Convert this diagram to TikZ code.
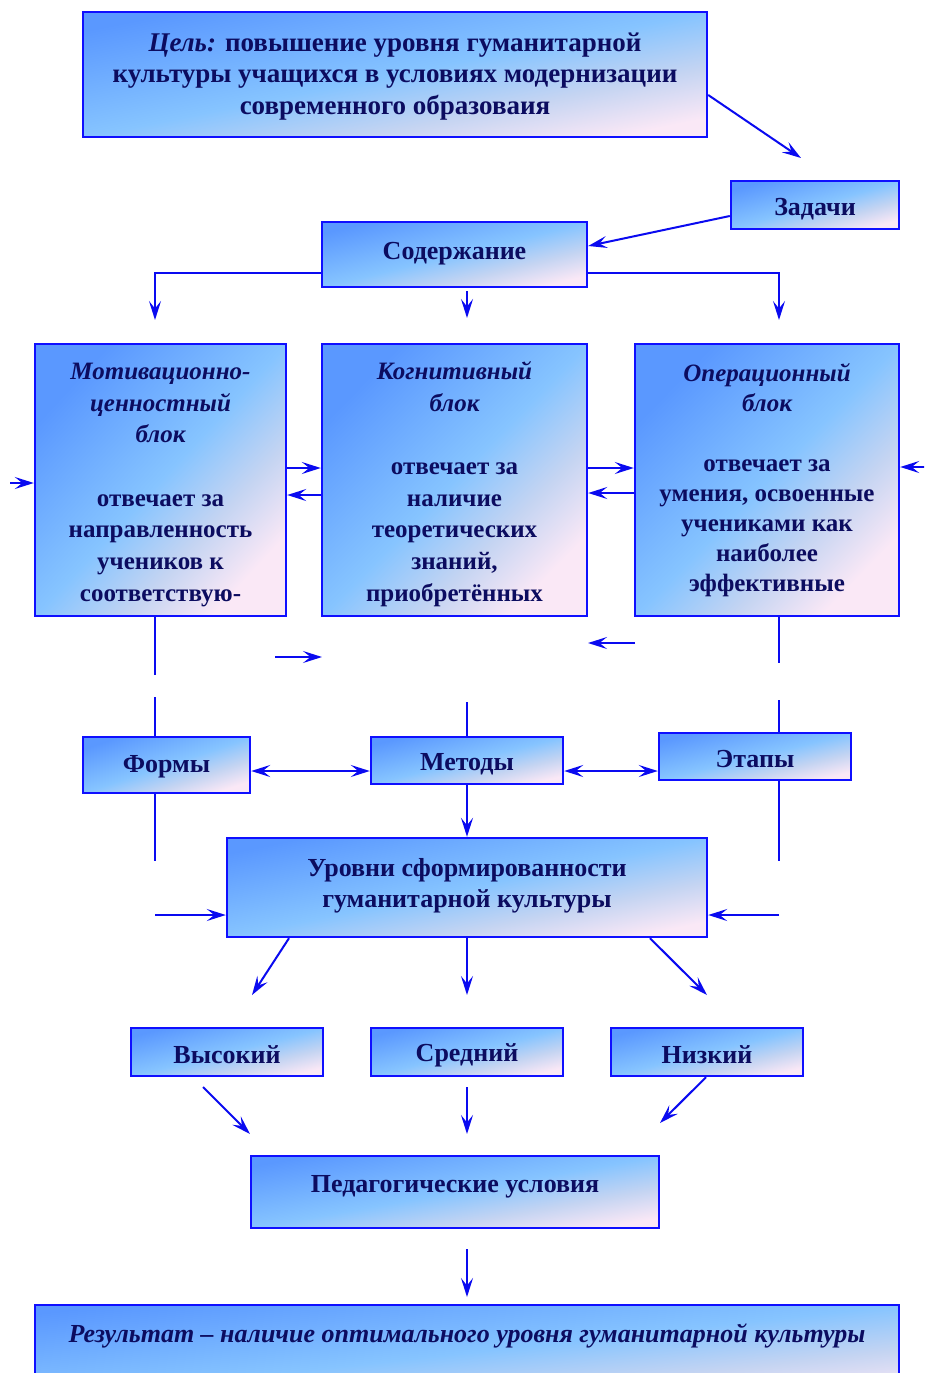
\documentclass[tikz,border=0pt]{standalone}
\usepackage{fontspec}
\setmainfont{Liberation Serif}
\usetikzlibrary{arrows.meta,calc}
\definecolor{bordc}{RGB}{15,15,255}
\definecolor{linec}{RGB}{10,10,240}
\definecolor{txtc}{RGB}{12,12,96}
\definecolor{gA}{RGB}{90,152,255}
\definecolor{gB}{RGB}{134,196,255}
\definecolor{gD}{RGB}{196,212,242}
\definecolor{gC}{RGB}{250,232,246}
\pgfdeclareverticalshading{boxshade}{100bp}{color(0bp)=(gC); color(25bp)=(gC);
  color(37bp)=(gD); color(50bp)=(gB); color(75bp)=(gA); color(100bp)=(gA)}
\makeatletter
\tikzset{
  boxst/.style={draw=bordc, line width=2.4pt, shading=boxshade, text=txtc,
    font=\fontsize{26}{31.5}\selectfont\bfseries, align=center, inner sep=0pt},
  bsize/.code 2 args={\pgfmathsetmacro\bxang{atan(#2/#1)}%
    \edef\bx@tmp{\noexpand\pgfkeysalso{minimum width=#1pt, minimum height=#2pt, shading angle=\bxang}}\bx@tmp},
  blockfont/.style={font=\fontsize{25}{31.7}\selectfont\bfseries},
  conn/.style={draw=linec, line width=2pt},
  arr/.style={conn, -{Stealth[length=19pt,width=12pt,inset=7.5pt]}},
  darr/.style={conn, {Stealth[length=19pt,width=12pt,inset=7.5pt]}-{Stealth[length=19pt,width=12pt,inset=7.5pt]}},
}
\makeatother
\begin{document}
\begin{tikzpicture}[x=1pt,y=-1pt]
\clip (0,0) rectangle (924,1373);
\fill[white] (0,0) rectangle (924,1373);
% boxes
\node[boxst, bsize={624}{125}, font=\fontsize{27}{31.5}\selectfont\bfseries] (goal) at (395,74.5)
  {\rule{0pt}{22pt}\itshape Цель:\upshape{} повышение уровня гуманитарной\\культуры учащихся в условиях модернизации\\современного образоваия};
\node[boxst, bsize={168}{48}, text height=25pt] (zad) at (815,205) {Задачи};
\node[boxst, bsize={265}{65}, text depth=8pt] (sod) at (454.5,254.5) {Содержание};
\node[boxst, blockfont, bsize={251}{272}] (mot) at (160.5,480)
  {\rule{0pt}{26pt}\itshape Мотивационно-\\\itshape ценностный\\\itshape блок\\ \mbox{}\\отвечает за\\направленность\\учеников к\\соответствую-};
\node[boxst, blockfont, bsize={265}{272}] (kog) at (454.5,480)
  {\rule{0pt}{26pt}\itshape Когнитивный\\\itshape блок\\ \mbox{}\\отвечает за\\наличие\\теоретических\\знаний,\\приобретённых};
\node[boxst, font=\fontsize{25}{30}\selectfont\bfseries, bsize={264}{272}] (op) at (767,480)
  {\itshape Операционный\\\itshape блок\\ \mbox{}\\отвечает за\\умения, освоенные\\учениками как\\наиболее\\эффективные};
\node[boxst, bsize={167}{56}, text height=21pt] (form) at (166.5,765) {Формы};
\node[boxst, bsize={192}{47}, text height=24pt] (met) at (467,760.5) {Методы};
\node[boxst, bsize={192}{47}, text height=22pt] (etap) at (755,756.5) {Этапы};
\node[boxst, bsize={480}{99}] (urov) at (467,887.5)
  {Уровни сформированности\\гуманитарной культуры\\[-22pt]\mbox{}};
\node[boxst, bsize={192}{48}, text height=24pt] (vys) at (227,1052) {Высокий};
\node[boxst, bsize={192}{48}, text height=25pt] (sred) at (467,1052) {Средний};
\node[boxst, bsize={192}{48}, text height=24pt] (niz) at (707,1052) {Низкий};
\node[boxst, bsize={408}{72}, text depth=17pt] (ped) at (455,1192) {Педагогические условия};
\node[boxst, bsize={864}{95}] (res) at (467,1352.5)
  {\itshape Результат – наличие оптимального уровня гуманитарной культуры\\[8pt] \mbox{}};
% free ends
\coordinate (zadin) at (801,158);
\coordinate (l1) at (155,320);
\coordinate (m1) at (467,318);
\coordinate (r1) at (779,320);
% connectors
\draw[arr] (goal.east |- 0,95) -- (zadin);
\draw[arr] (zad.west |- 0,216) -- (sod.east |- 0,246);
\draw[arr] (sod.west |- 0,273) -| (l1);
\draw[arr] (sod.east |- 0,273) -| (r1);
\draw[arr] (467,291) -- (m1);
\draw[arr] (mot.east |- 0,468) -- (kog.west |- 0,468);
\draw[arr] (kog.west |- 0,495) -- (mot.east |- 0,495);
\draw[arr] (kog.east |- 0,468) -- (op.west |- 0,468);
\draw[arr] (op.west |- 0,493) -- (kog.east |- 0,493);
\draw[arr] (10,483) -- (mot.west |- 0,483);
\draw[arr] (926,467) -- (op.east |- 0,467);
\draw[conn] (mot.south -| 155,0) -- (155,675);
\draw[conn] (155,697) -- (form.north -| 155,0);
\draw[conn] (op.south -| 779,0) -- (779,663);
\draw[conn] (779,700) -- (etap.north -| 779,0);
\draw[conn] (467,702) -- (met.north);
\draw[arr] (275,657) -- (322,657);
\draw[arr] (635,643) -- (588,643);
\draw[darr] (form.east |- 0,771) -- (met.west |- 0,771);
\draw[darr] (met.east |- 0,771) -- (etap.west |- 0,771);
\draw[conn] (form.south -| 155,0) -- (155,861);
\draw[conn] (etap.south -| 779,0) -- (779,861);
\draw[arr] (met.south) -- (urov.north);
\draw[arr] (155,915) -- (urov.west |- 0,915);
\draw[arr] (779,915) -- (urov.east |- 0,915);
\draw[arr] (urov.south -| 289,0) -- (252,995);
\draw[arr] (urov.south) -- (467,995);
\draw[arr] (urov.south -| 650,0) -- (707,995);
\draw[arr] (203,1087) -- (250,1134);
\draw[arr] (467,1087) -- (467,1134);
\draw[arr] (niz.south -| 706,0) -- (660,1123);
\draw[arr] (467,1249) -- (467,1297);
\end{tikzpicture}
\end{document}
